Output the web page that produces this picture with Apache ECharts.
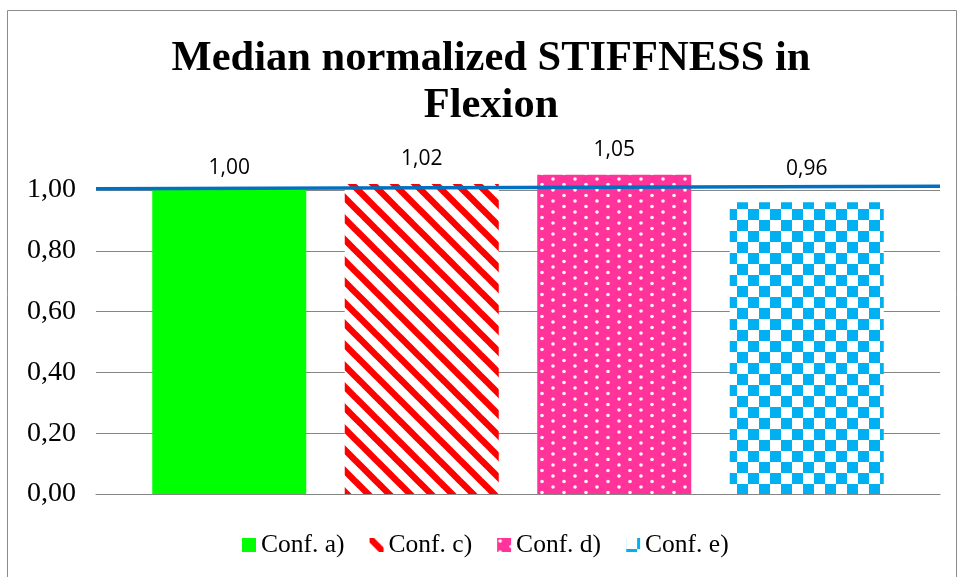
<!DOCTYPE html>
<html>
<head>
<meta charset="utf-8">
<script src="https://cdn.jsdelivr.net/npm/echarts@6/dist/echarts.min.js"></script>
<style>
  html, body { margin: 0; padding: 0; background: #fff; }
  #chart { width: 957px; height: 577px; }
</style>
</head>
<body>
<div id="chart"></div>
<script>
// Chart content
const titleText = 'Median normalized STIFFNESS in\nFlexion';
const seriesNames = ['Conf. a)', 'Conf. c)', 'Conf. d)', 'Conf. e)'];
const seriesValues = [1.00, 1.02, 1.05, 0.96];
// Reference line: level at the left and right edges of the plot
const referenceLine = [[0, 1.004], [1, 1.012]];
const yTicks = { min: 0, max: 1.0, interval: 0.2 };

// Fill patterns drawn on small canvases
function makeTile(w, h, draw) {
  const c = document.createElement('canvas');
  c.width = w; c.height = h;
  draw(c.getContext('2d'), w, h);
  return c;
}
const stripeTile = makeTile(21, 21, (ctx, w, h) => {
  ctx.fillStyle = '#ffffff';
  ctx.fillRect(0, 0, w, h);
  ctx.strokeStyle = '#ff0000';
  ctx.lineWidth = 6.5;
  for (let k = -1; k <= 1; k++) {
    ctx.beginPath();
    ctx.moveTo(k * w - 5, -5);
    ctx.lineTo(k * w + w + 5, h + 5);
    ctx.stroke();
  }
});
const dotTile = makeTile(22, 11, (ctx, w, h) => {
  ctx.fillStyle = '#ff3399';
  ctx.fillRect(0, 0, w, h);
  ctx.fillStyle = 'rgba(255,255,255,0.95)';
  const dots = [[3, 3], [14, 8.5]];
  dots.forEach(([x, y]) => {
    ctx.beginPath();
    ctx.arc(x, y, 1.8, 0, Math.PI * 2);
    ctx.fill();
  });
});
const checkTile = makeTile(22, 22, (ctx, w, h) => {
  ctx.fillStyle = '#ffffff';
  ctx.fillRect(0, 0, w, h);
  ctx.fillStyle = '#00b0f0';
  ctx.fillRect(11, 0, 11, 11);
  ctx.fillRect(0, 11, 11, 11);
});

const fills = [
  '#00ff00',
  { image: stripeTile, repeat: 'repeat' },
  { image: dotTile, repeat: 'repeat' },
  { image: checkTile, repeat: 'repeat' }
];
const labelDistances = [11, 14, 14, 23];

const fmt = v => v.toFixed(2).replace('.', ',');

const series = seriesNames.map((name, i) => ({
  name: name,
  type: 'bar',
  clip: false,
  barWidth: 154,
  barGap: '25%',
  data: [seriesValues[i]],
  itemStyle: { color: fills[i] },
  label: {
    show: true,
    position: 'top',
    distance: labelDistances[i],
    formatter: p => fmt(p.value),
    fontFamily: 'Open Sans',
    fontSize: 21,
    color: '#000'
  }
}));

// Blue reference line spanning the whole plot width
series.push({
  name: 'reference',
  type: 'line',
  xAxisIndex: 1,
  yAxisIndex: 0,
  clip: false,
  silent: true,
  symbol: 'none',
  z: 5,
  lineStyle: { color: '#0070c0', width: 3.5 },
  data: referenceLine
});

const chart = echarts.init(document.getElementById('chart'), null, { renderer: 'canvas' });
chart.setOption({
  animation: false,
  backgroundColor: '#ffffff',
  title: {
    text: titleText,
    left: 486,
    top: 31,
    textAlign: 'center',
    textStyle: {
      fontFamily: 'Liberation Serif',
      fontWeight: 'bold',
      fontSize: 42.5,
      lineHeight: 47,
      color: '#000'
    }
  },
  graphic: [{
    type: 'rect',
    left: 5, top: 8,
    shape: { width: 949, height: 600 },
    style: { fill: 'none', stroke: '#8c8c8c', lineWidth: 1 },
    silent: true
  }],
  legend: {
    bottom: 14,
    left: 237,
    icon: 'rect',
    itemWidth: 14,
    itemHeight: 14,
    itemGap: 25,
    textStyle: { fontFamily: 'Liberation Serif', fontSize: 25.5, color: '#000' },
    data: seriesNames
  },
  grid: { left: 96, right: 17, top: 190, bottom: 83 },
  xAxis: [{
    type: 'category',
    data: [''],
    axisLine: { lineStyle: { color: '#868686' } },
    axisTick: { show: false },
    axisLabel: { show: false }
  }, {
    type: 'value',
    min: 0,
    max: 1,
    show: false
  }],
  yAxis: {
    type: 'value',
    min: yTicks.min,
    max: yTicks.max,
    interval: yTicks.interval,
    axisLine: { show: false },
    axisTick: { show: false },
    axisLabel: {
      formatter: v => fmt(v),
      fontFamily: 'Liberation Serif',
      fontSize: 28,
      color: '#000',
      margin: 20
    },
    splitLine: { lineStyle: { color: '#868686', width: 1 } }
  },
  series: series
});
</script>
</body>
</html>
